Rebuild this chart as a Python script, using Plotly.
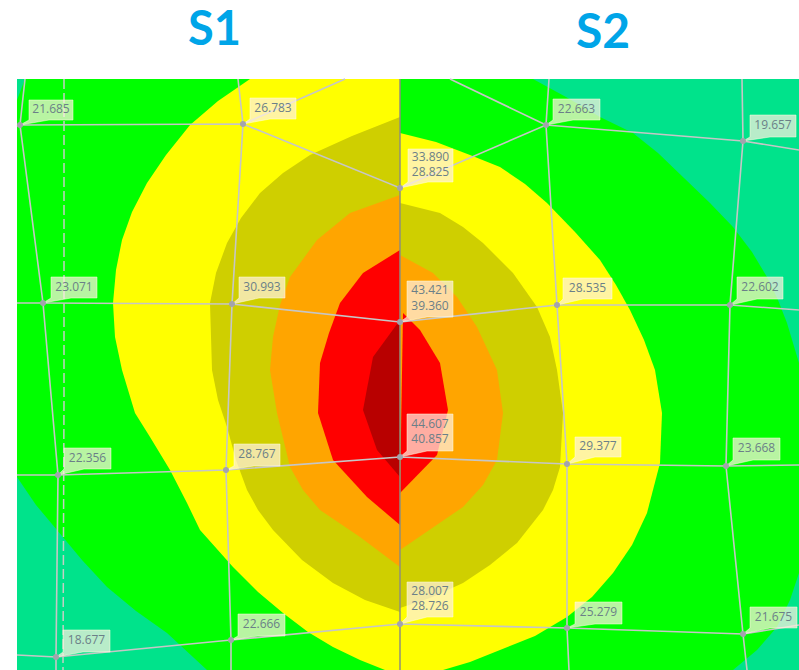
import plotly.graph_objects as go

# Contour bands (level colour, outline)
COLORS = {"teal": "#00E38B", "green": "#00FF00", "yellow": "#FFFF00",
          "olive": "#CFCF00", "orange": "#FFA500", "red": "#FF0000", "dark": "#B80000"}

green_band = [(17,100),(25,79),(533,79),(566,97),(600,117),(633,133),(658,153),(683,177),(710,203),(733,227),(752,252),(767,277),(778,300),(787,323),(793,343),(799,363),
              (799,573),(790,600),(777,627),(757,650),(733,670),(207,670),(167,633),(136,611),(107,587),(82,560),(57,530),(36,505),(17,477)]
yellow_s1 = [(250,79),(218,101),(190,125),(166,155),(147,183),(132,212),(122,240),(116,270),(113,303),(115,337),(122,370),(135,413),(150,437),(170,470),(187,503),(200,530),
             (233,567),(258,592),(283,613),(308,632),(333,647),(360,660),(385,670),(400,670),(400,79)]
yellow_s2 = [(400,133),(436,142),(470,155),(500,167),(525,184),(547,203),(575,232),(600,260),(616,285),(630,310),(644,340),(655,370),(662,413),(660,463),(647,513),
             (632,545),(613,573),(592,597),(567,617),(535,636),(500,650),(470,662),(443,670),(400,670)]
olive_s1 = [(400,117),(352,136),(310,155),(283,173),(260,193),(241,218),(227,243),(216,273),(210,303),(212,370),(218,400),(227,427),(236,460),(247,490),(258,510),(273,530),(302,560),(333,583),(365,600),(400,612)]
olive_s2 = [(400,203),(440,213),(463,227),(483,243),(513,273),(537,307),(550,337),(557,370),(563,413),(560,467),(553,490),(543,510),(517,543),(490,565),(463,583),(430,598),(400,608)]
orange_s1 = [(400,195),(350,213),(317,240),(290,277),(280,305),(273,337),(270,370),(277,413),(290,467),(303,490),(320,510),(360,537),(400,567)]
orange_s2 = [(400,255),(433,273),(457,297),(477,327),(497,370),(503,413),(497,460),(483,485),(463,507),(430,530),(400,550)]
red_s1 = [(400,250),(363,273),(340,303),(329,333),(320,363),(318,413),(333,460),(367,497),(400,525)]
red_s2 = [(403,313),(420,330),(440,363),(448,410),(437,455),(400,493)]
dark_s1 = [(400,320),(373,357),(363,410),(377,450),(400,477)]

BANDS = [("green", green_band), ("yellow", yellow_s1), ("yellow", yellow_s2), ("olive", olive_s1), ("olive", olive_s2),
         ("orange", orange_s1), ("orange", orange_s2), ("red", red_s1), ("red", red_s2), ("dark", dark_s1)]

# Mesh nodes
node_x = [20,243,400,546,743, 43,232,400,557,730, 58,226,400,567,726, 56,231,400,567,743]
node_y = [125,124,188,125,141, 303,304,322,305,305, 475,470,457,464,466, 657,640,624,628,634]
node_text = ["21.685","26.783","33.890<br>28.825","22.663","19.657",
             "23.071","30.993","43.421<br>39.360","28.535","22.602",
             "22.356","28.767","44.607<br>40.857","29.377","23.668",
             "18.677","22.666","28.007<br>28.726","25.279","21.675"]
label_x0 = [29,250,408,553,750, 51,239,407,563,737, 64,234,407,575,733, 63,238,407,575,750]
label_x1 = [73,296,453,600,796, 97,285,453,612,783, 111,280,453,621,780, 110,285,453,622,797]
label_y0 = [100,98,149,99,115, 277,277,281,278,277, 448,444,414,437,438, 630,614,582,602,607]
label_y1 = [120,119,182,120,137, 298,298,317,299,299, 469,466,451,457,460, 652,636,617,624,628]

rows = [[(17,126),0,1,2,3,4,(799,150)], [(17,303),5,6,7,8,9,(799,310)],
        [(17,475),10,11,12,13,14,(799,465)], [(17,655),15,16,17,18,19,(799,625)]]
cols = [[(25,79),0,5,10,15,(56,670)], [(238,79),1,6,11,16,(231,670)],
        [(549,79),3,8,13,18,(569,670)], [(742,79),4,9,14,19,(747,670)]]
extra = [[1,(345,79)], [3,(450,79)]]

fig = go.Figure()

for name, pts in BANDS:
    fig.add_trace(go.Scatter(x=[p[0] for p in pts], y=[p[1] for p in pts], mode="lines", fill="toself",
                             fillcolor=COLORS[name], line=dict(width=0), hoverinfo="skip", showlegend=False))

# Dashed reference line
fig.add_trace(go.Scatter(x=[64,64,63], y=[79,400,670], mode="lines", showlegend=False, hoverinfo="skip",
                         line=dict(color="#C4CEC4", width=1.5, dash="10px,4px")))

mx, my = [], []
for path in rows + cols + extra:
    for p in path:
        if isinstance(p, int):
            mx.append(node_x[p]); my.append(node_y[p])
        else:
            mx.append(p[0]); my.append(p[1])
    mx.append(None); my.append(None)
fig.add_trace(go.Scatter(x=mx, y=my, mode="lines", line=dict(color="#C6C6C6", width=1.6), showlegend=False, hoverinfo="skip"))
# Split line between S1 and S2
fig.add_trace(go.Scatter(x=[400,400], y=[79,670], mode="lines", line=dict(color="#8F8F7A", width=1.5), showlegend=False, hoverinfo="skip"))

lx, ly = [], []
for nx, ny, x0, x1, y0, y1 in zip(node_x, node_y, label_x0, label_x1, label_y0, label_y1):
    lx += [x0, x1, x1, x0 + 20, nx, x0, x0, None]
    ly += [y0, y0, y1, y1, ny, y1, y0, None]
fig.add_trace(go.Scatter(x=lx, y=ly, mode="lines", fill="toself", fillcolor="rgba(255,240,225,0.72)",
                         line=dict(color="rgba(255,255,225,0.5)", width=1), showlegend=False, hoverinfo="skip"))

fig.add_trace(go.Scatter(x=node_x, y=node_y, mode="markers", marker=dict(color="#A3A3AD", size=6), showlegend=False, hoverinfo="skip"))

fig.add_trace(go.Scatter(x=[(a+b)/2 for a, b in zip(label_x0, label_x1)], y=[(a+b)/2 for a, b in zip(label_y0, label_y1)],
                         mode="text", text=node_text, textposition="middle center",
                         textfont=dict(family="Open Sans", size=12, color="#6B7F88"), showlegend=False, hoverinfo="skip"))

fig.add_annotation(x=214, y=27, text="<b>S1</b>", showarrow=False, font=dict(family="Lato", size=47, color="#00A5E8"))
fig.add_annotation(x=603, y=29, text="<b>S2</b>", showarrow=False, font=dict(family="Lato", size=48, color="#00A5E8"))

fig.update_layout(width=799, height=670, margin=dict(l=0, r=0, t=0, b=0), paper_bgcolor="white", plot_bgcolor="white",
                  shapes=[dict(type="rect", x0=17, x1=799, y0=79, y1=670, fillcolor=COLORS["teal"], line_width=0, layer="below")],
                  xaxis=dict(range=[0,799], visible=False, fixedrange=True),
                  yaxis=dict(range=[670,0], visible=False, fixedrange=True))
fig.write_html("out.html", config=dict(displayModeBar=False),
               post_script="document.body.style.margin='0';document.body.style.overflow='hidden';")
